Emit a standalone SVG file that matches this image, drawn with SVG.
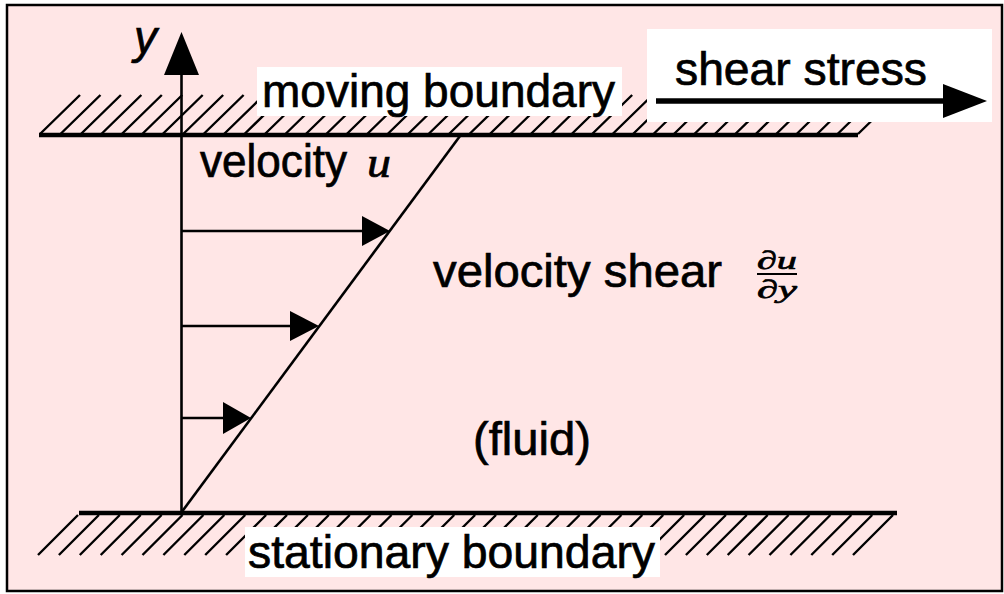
<svg xmlns="http://www.w3.org/2000/svg" width="1004" height="594" viewBox="0 0 1004 594">
<style>
.t{font-family:"Liberation Sans",Arial,sans-serif;font-size:46px;fill:#000;stroke:#000;stroke-width:0.7px}
.m{font-family:"Liberation Serif","Times New Roman",serif;font-style:italic;fill:#000;stroke:#000;stroke-width:0.7px}
.h{stroke:#000;stroke-width:2.4;fill:none}
.ln{stroke:#000;stroke-width:2.6;fill:none}
.wall{stroke:#000;stroke-width:4.5}
.lab{fill:#fff}
</style>
<rect x="0" y="0" width="1004" height="594" fill="#fff"/>
<rect id="frame" x="7" y="5" width="995" height="586" fill="#FFE6E6" stroke="#000" stroke-width="2.5"/>

<g id="moving-boundary">
<path class="h" d="M40,134L80,95M60.45,134L100.45,95M80.9,134L120.9,95M101.35,134L141.35,95M121.8,134L161.8,95M142.25,134L182.25,95M162.7,134L202.7,95M183.15,134L223.15,95M203.6,134L243.6,95M224.05,134L264.05,95M244.5,134L284.5,95M264.95,134L304.95,95M285.4,134L325.4,95M305.85,134L345.85,95M326.3,134L366.3,95M346.75,134L386.75,95M367.2,134L407.2,95M387.65,134L427.65,95M408.1,134L448.1,95M428.55,134L468.55,95M449,134L489,95M469.45,134L509.45,95M489.9,134L529.9,95M510.35,134L550.35,95M530.8,134L570.8,95M551.25,134L591.25,95M571.7,134L611.7,95M592.15,134L632.15,95M612.6,134L652.6,95M633.05,134L673.05,95M653.5,134L693.5,95M673.95,134L713.95,95M694.4,134L734.4,95M714.85,134L754.85,95M735.3,134L775.3,95M755.75,134L795.75,95M776.2,134L816.2,95M796.65,134L836.65,95M817.1,134L857.1,95M837.55,134L877.55,95M858,134L898,95"/>
<line class="wall" x1="39" y1="135" x2="858" y2="135"/>
<rect class="lab" x="257" y="67" width="365" height="49"/>
<text class="t" x="262" y="107" textLength="353" lengthAdjust="spacingAndGlyphs">moving boundary</text>
</g>

<g id="stationary-boundary">
<path class="h" d="M78,515L38,555M98.9,515L58.9,555M119.8,515L79.8,555M140.7,515L100.7,555M161.6,515L121.6,555M182.5,515L142.5,555M203.4,515L163.4,555M224.3,515L184.3,555M245.2,515L205.2,555M266.1,515L226.1,555M287,515L247,555M307.9,515L267.9,555M328.8,515L288.8,555M349.7,515L309.7,555M370.6,515L330.6,555M391.5,515L351.5,555M412.4,515L372.4,555M433.3,515L393.3,555M454.2,515L414.2,555M475.1,515L435.1,555M496,515L456,555M516.9,515L476.9,555M537.8,515L497.8,555M558.7,515L518.7,555M579.6,515L539.6,555M600.5,515L560.5,555M621.4,515L581.4,555M642.3,515L602.3,555M663.2,515L623.2,555M684.1,515L644.1,555M705,515L665,555M725.9,515L685.9,555M746.8,515L706.8,555M767.7,515L727.7,555M788.6,515L748.6,555M809.5,515L769.5,555M830.4,515L790.4,555M851.3,515L811.3,555M872.2,515L832.2,555M893,515L853,555"/>
<line class="wall" x1="79" y1="513" x2="897" y2="513"/>
<rect class="lab" x="245" y="527" width="415" height="50"/>
<text class="t" x="248" y="568" textLength="407" lengthAdjust="spacingAndGlyphs">stationary boundary</text>
</g>

<g id="shear-stress">
<rect class="lab" x="647" y="29" width="345" height="93"/>
<text class="t" x="675" y="85" textLength="252" lengthAdjust="spacingAndGlyphs">shear stress</text>
</g>

<g id="y-label">
<text class="t" x="134" y="53" font-style="italic">y</text>
</g>

<g id="velocity-label">
<text class="t" x="200" y="177" textLength="147" lengthAdjust="spacingAndGlyphs">velocity</text>
<text class="m" x="367" y="177" font-size="44" textLength="24" lengthAdjust="spacingAndGlyphs">u</text>
</g>

<g id="velocity-shear">
<text class="t" x="433" y="287" textLength="289" lengthAdjust="spacingAndGlyphs">velocity shear</text>
<text class="m" x="757" y="269" font-size="26" textLength="40" lengthAdjust="spacingAndGlyphs">∂u</text>
<line x1="757" y1="274" x2="797" y2="274" stroke="#000" stroke-width="1.8"/>
<text class="m" x="757" y="298" font-size="26" textLength="40" lengthAdjust="spacingAndGlyphs">∂y</text>
</g>

<g id="fluid">
<text class="t" x="473" y="455" textLength="118" lengthAdjust="spacingAndGlyphs">(fluid)</text>
</g>

<g id="connectors">
<line class="ln" x1="181.5" y1="513" x2="181.5" y2="74"/>
<polygon points="164,75 199,75 181.5,32" fill="#000"/>
<line class="ln" x1="181" y1="513" x2="460" y2="136"/>
<line class="ln" x1="181" y1="231" x2="364" y2="231"/>
<polygon points="362,216 390,231 362,246" fill="#000"/>
<line class="ln" x1="181" y1="326" x2="292" y2="326"/>
<polygon points="290,311 319,326 290,341" fill="#000"/>
<line class="ln" x1="181" y1="418" x2="225" y2="418"/>
<polygon points="223,402 251,418 223,434" fill="#000"/>
<line x1="656" y1="101" x2="945" y2="101" stroke="#000" stroke-width="5.5"/>
<polygon points="943,84 987,101 943,118" fill="#000"/>
</g>
</svg>
